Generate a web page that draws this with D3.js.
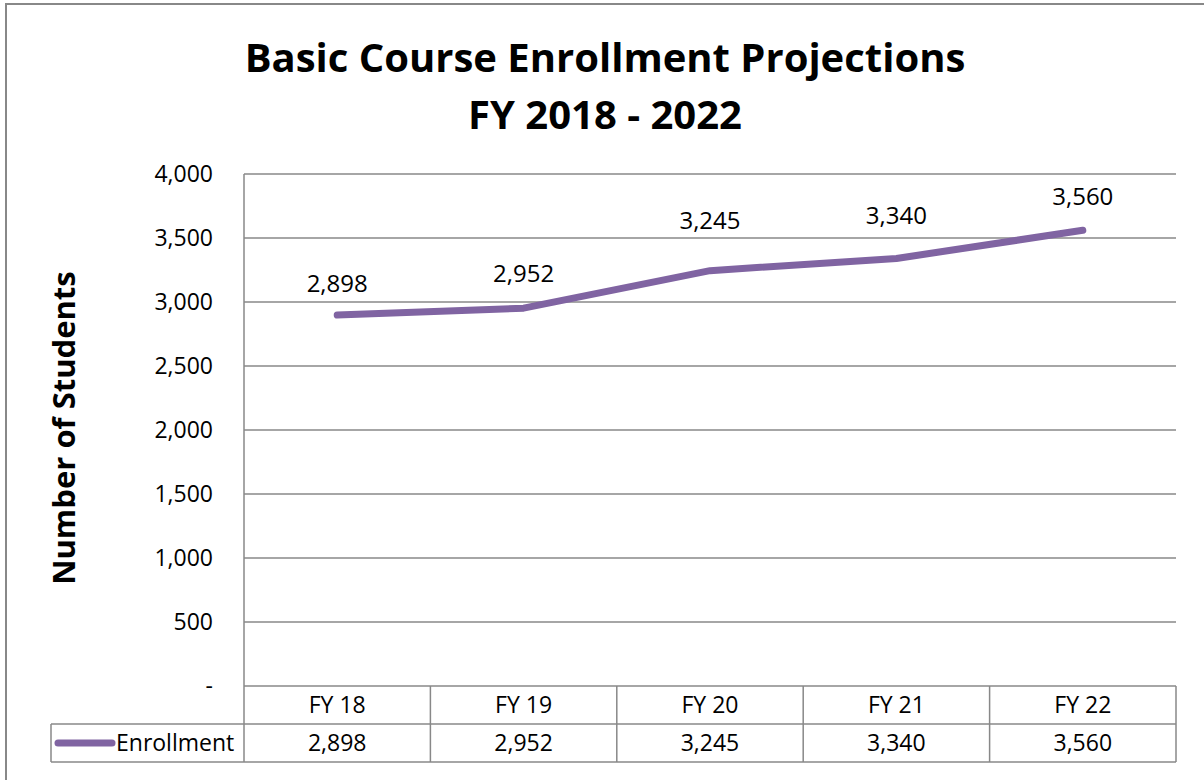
<!DOCTYPE html>
<html>
<head>
<meta charset="utf-8">
<script src="https://cdn.jsdelivr.net/npm/d3@7"></script>
<style>
  body { margin: 0; background: #fff; }
  svg { display: block; font-family: "Open Sans", Lato, sans-serif; }
</style>
</head>
<body>
<svg id="chart" width="1204" height="780"></svg>
<script>
// chart data
const categories = ["FY 18", "FY 19", "FY 20", "FY 21", "FY 22"];
const enrollment = [2898, 2952, 3245, 3340, 3560];
const yTicks = [0, 500, 1000, 1500, 2000, 2500, 3000, 3500, 4000];
const seriesName = "Enrollment";

const width = 1204, height = 780;
const plot = { left: 244, right: 1176, top: 174, bottom: 686 };
const rowH = 38;
const legendLeft = 51;
const purple = "#8064a2";
const gridColor = "#888";
const fs = 23;
// how far each data label sits above its point (px), as placed in the original
const labelLift = [31, 35, 50, 43, 34];

const svg = d3.select("#chart");

// outer chart border
svg.append("rect")
  .attr("x", 6).attr("y", 4)
  .attr("width", width + 10).attr("height", height + 10)
  .attr("fill", "none")
  .attr("stroke", gridColor)
  .attr("stroke-width", 2);

const x = d3.scaleBand()
  .domain(categories)
  .range([plot.left, plot.right])
  .padding(0);

const y = d3.scaleLinear()
  .domain([0, 4000])
  .range([plot.bottom, plot.top]);

// gridlines
svg.append("g")
  .selectAll("line")
  .data(yTicks)
  .join("line")
  .attr("x1", plot.left).attr("x2", plot.right)
  .attr("y1", d => y(d)).attr("y2", d => y(d))
  .attr("stroke", gridColor)
  .attr("stroke-width", 1.5);

// left axis line
svg.append("line")
  .attr("x1", plot.left).attr("x2", plot.left)
  .attr("y1", plot.top).attr("y2", plot.bottom)
  .attr("stroke", gridColor).attr("stroke-width", 1.5);

// y tick labels
const fmt = d3.format(",");
svg.append("g")
  .selectAll("text")
  .data(yTicks)
  .join("text")
  .attr("x", 213)
  .attr("y", d => y(d))
  .attr("dy", "0.35em")
  .attr("text-anchor", "end")
  .attr("font-size", fs)
  .attr("fill", "#000")
  .text(d => d === 0 ? "-" : fmt(d));

// y axis title
svg.append("text")
  .attr("transform", `translate(75, ${(plot.top + plot.bottom) / 2 - 2}) rotate(-90)`)
  .attr("text-anchor", "middle")
  .attr("font-size", 31)
  .attr("font-weight", "bold")
  .text("Number of Students");

// title
const title = svg.append("text")
  .attr("text-anchor", "middle")
  .attr("font-size", 40)
  .attr("font-weight", "bold");
title.append("tspan").attr("x", 605).attr("y", 72).text("Basic Course Enrollment Projections");
title.append("tspan").attr("x", 605).attr("y", 129).text("FY 2018 - 2022");

// data table
const table = svg.append("g")
  .attr("stroke", gridColor)
  .attr("stroke-width", 1.5);
table.append("line")
  .attr("x1", legendLeft).attr("x2", plot.right)
  .attr("y1", plot.bottom + rowH).attr("y2", plot.bottom + rowH);
table.append("line")
  .attr("x1", legendLeft).attr("x2", plot.right)
  .attr("y1", plot.bottom + 2 * rowH).attr("y2", plot.bottom + 2 * rowH);
const colEdges = categories.map(c => x(c)).concat([plot.right]);
table.selectAll("line.col")
  .data(colEdges)
  .join("line")
  .attr("class", "col")
  .attr("x1", d => d).attr("x2", d => d)
  .attr("y1", plot.bottom).attr("y2", plot.bottom + 2 * rowH);
table.append("line")
  .attr("x1", legendLeft).attr("x2", legendLeft)
  .attr("y1", plot.bottom + rowH).attr("y2", plot.bottom + 2 * rowH);

// category labels
svg.append("g")
  .selectAll("text")
  .data(categories)
  .join("text")
  .attr("x", d => x(d) + x.bandwidth() / 2)
  .attr("y", plot.bottom + rowH / 2)
  .attr("dy", "0.35em")
  .attr("text-anchor", "middle")
  .attr("font-size", fs)
  .text(d => d);

// value row
svg.append("g")
  .selectAll("text")
  .data(enrollment)
  .join("text")
  .attr("x", (d, i) => x(categories[i]) + x.bandwidth() / 2)
  .attr("y", plot.bottom + rowH * 1.5)
  .attr("dy", "0.35em")
  .attr("text-anchor", "middle")
  .attr("font-size", fs)
  .text(d => fmt(d));

// legend key in table
const legY = plot.bottom + rowH * 1.5;
svg.append("line")
  .attr("x1", 58).attr("x2", 112)
  .attr("y1", legY).attr("y2", legY)
  .attr("stroke", purple)
  .attr("stroke-width", 7)
  .attr("stroke-linecap", "round");
svg.append("text")
  .attr("x", 116)
  .attr("y", legY)
  .attr("dy", "0.35em")
  .attr("font-size", fs)
  .text(seriesName);

// line
const line = d3.line()
  .x((d, i) => x(categories[i]) + x.bandwidth() / 2)
  .y(d => y(d));

svg.append("path")
  .datum(enrollment)
  .attr("d", line)
  .attr("fill", "none")
  .attr("stroke", purple)
  .attr("stroke-width", 7)
  .attr("stroke-linecap", "round")
  .attr("stroke-linejoin", "round");

// data labels
svg.append("g")
  .selectAll("text")
  .data(enrollment)
  .join("text")
  .attr("x", (d, i) => x(categories[i]) + x.bandwidth() / 2)
  .attr("y", (d, i) => y(d) - labelLift[i])
  .attr("dy", "0.35em")
  .attr("text-anchor", "middle")
  .attr("font-size", 24)
  .text(d => fmt(d));
</script>
</body>
</html>
